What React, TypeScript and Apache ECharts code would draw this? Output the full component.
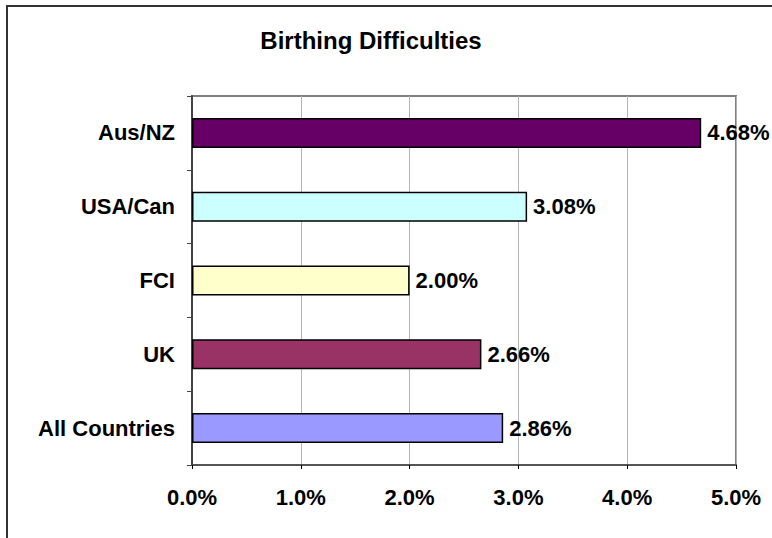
import React, { useEffect, useRef } from "react";
import * as echarts from "echarts";

const categories = ["All Countries", "UK", "FCI", "USA/Can", "Aus/NZ"];
const values = [2.86, 2.66, 2.0, 3.08, 4.68];
const barColors = ["#9999FF", "#993366", "#FFFFCC", "#CCFFFF", "#660066"];
const xTicks = [0, 1, 2, 3, 4, 5];

const FONT = "Liberation Sans, Arial, sans-serif";

export default function App() {
  const ref = useRef<HTMLDivElement>(null);
  useEffect(() => {
    if (!ref.current) return;
    const chart = echarts.init(ref.current, null, { renderer: "svg" });
    chart.setOption({
      animation: false,
      backgroundColor: "#ffffff",
      graphic: [
        {
          type: "rect",
          shape: { x: 7, y: 6, width: 900, height: 700 },
          style: { fill: "none", stroke: "#333333", lineWidth: 2 },
          silent: true,
        },
        {
          type: "text",
          x: 371,
          y: 40,
          style: {
            text: "Birthing Difficulties",
            font: `bold 24px ${FONT}`,
            fill: "#000",
            textAlign: "center",
            textVerticalAlign: "middle",
          },
        },
      ],
      grid: {
        left: 192,
        right: 36,
        top: 96,
        bottom: 73,
        show: true,
        borderColor: "#808080",
        borderWidth: 2,
        containLabel: false,
      },
      xAxis: {
        type: "value",
        min: xTicks[0],
        max: xTicks[xTicks.length - 1],
        interval: 1,
        axisLine: { show: true, lineStyle: { color: "#555555", width: 2 } },
        axisTick: { show: true, length: 4, lineStyle: { color: "#000", width: 1 } },
        splitLine: { show: true, lineStyle: { color: "#b4b4b4", width: 1 } },
        axisLabel: {
          formatter: (v: number) => `${v.toFixed(1)}%`,
          fontFamily: FONT,
          fontWeight: "bold",
          fontSize: 22,
          color: "#000",
          margin: 21,
        },
      },
      yAxis: {
        type: "category",
        data: categories,
        axisLine: { show: true, lineStyle: { color: "#444444", width: 2 } },
        axisTick: { show: true, length: 5, alignWithLabel: false, lineStyle: { color: "#444", width: 1 } },
        axisLabel: {
          fontFamily: FONT,
          fontWeight: "bold",
          fontSize: 22,
          color: "#000",
          margin: 17,
        },
      },
      series: [
        {
          type: "bar",
          barWidth: 30,
          data: values.map((v, i) => ({
            value: v,
            itemStyle: { color: barColors[i], borderColor: "#000", borderWidth: 1.5 },
          })),
          label: {
            show: true,
            position: "right",
            distance: 6,
            formatter: (p: any) => `${Number(p.value).toFixed(2)}%`,
            fontFamily: FONT,
            fontWeight: "bold",
            fontSize: 22,
            color: "#000",
          },
        },
      ],
    });
    return () => chart.dispose();
  }, []);
  return <div ref={ref} style={{ width: 772, height: 538, position: "absolute", left: 0, top: 0 }} />;
}
